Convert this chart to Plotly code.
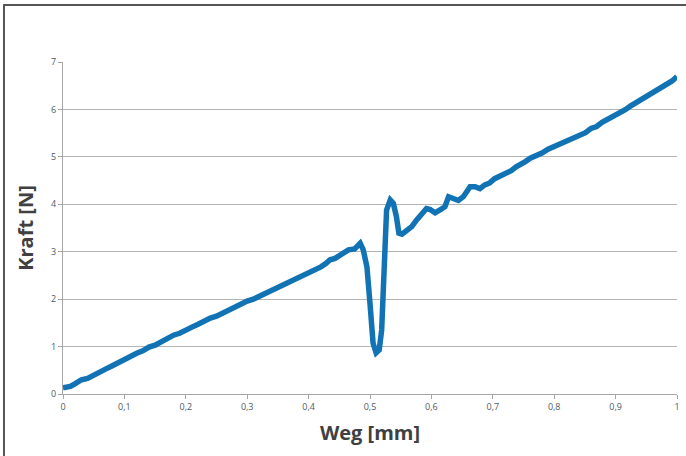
import plotly.graph_objects as go

weg = [0.0, 0.005, 0.012, 0.02, 0.025, 0.03, 0.04, 0.048, 0.055, 0.063, 0.07, 0.078, 0.085, 0.093,
       0.1, 0.11, 0.12, 0.13, 0.14, 0.15, 0.16, 0.17, 0.18, 0.19, 0.2,
       0.21, 0.22, 0.23, 0.24, 0.25, 0.26, 0.27, 0.28, 0.29, 0.3, 0.31, 0.32, 0.33, 0.34, 0.35,
       0.36, 0.37, 0.38, 0.39, 0.4, 0.41, 0.42, 0.428, 0.435, 0.443, 0.45, 0.458, 0.465, 0.475,
       0.484, 0.489, 0.495, 0.5, 0.505, 0.51, 0.515, 0.519, 0.523, 0.527, 0.533, 0.538, 0.543,
       0.547, 0.552, 0.56, 0.568, 0.576, 0.587, 0.592, 0.598, 0.606, 0.614, 0.622, 0.628, 0.636,
       0.644, 0.652, 0.663, 0.671, 0.679, 0.687, 0.695, 0.703, 0.712, 0.721, 0.73, 0.738, 0.745,
       0.753, 0.761, 0.77, 0.78, 0.79, 0.8, 0.81, 0.82, 0.831, 0.842, 0.851, 0.86, 0.869, 0.878,
       0.887, 0.896, 0.905, 0.915, 0.924, 0.933, 0.942, 0.951, 0.959, 0.967, 0.976, 0.984, 0.992, 1.0]
kraft = [0.13, 0.14, 0.16, 0.22, 0.27, 0.3, 0.33, 0.39, 0.44, 0.47, 0.53, 0.58, 0.63, 0.69,
         0.74, 0.79, 0.86, 0.91, 0.99, 1.03, 1.1, 1.18, 1.24, 1.28, 1.36,
         1.41, 1.47, 1.55, 1.6, 1.64, 1.71, 1.78, 1.83, 1.9, 1.96, 2.0, 2.06, 2.14, 2.19, 2.24,
         2.3, 2.37, 2.42, 2.5, 2.56, 2.6, 2.68, 2.75, 2.83, 2.86, 2.92, 2.97, 3.04, 3.06,
         3.18, 3.04, 2.68, 1.91, 1.07, 0.87, 0.93, 1.35, 2.61, 3.88, 4.09, 4.02, 3.74,
         3.39, 3.37, 3.46, 3.53, 3.67, 3.84, 3.91, 3.89, 3.82, 3.88, 3.95, 4.16, 4.12,
         4.08, 4.16, 4.37, 4.37, 4.33, 4.41, 4.45, 4.54, 4.59, 4.65, 4.71, 4.79, 4.83,
         4.9, 4.97, 5.01, 5.08, 5.16, 5.22, 5.25, 5.33, 5.4, 5.46, 5.51, 5.6, 5.64, 5.73,
         5.79, 5.88, 5.92, 5.99, 6.07, 6.14, 6.19, 6.27, 6.33, 6.4, 6.47, 6.54, 6.6, 6.69]

x_ticks = [0, 0.1, 0.2, 0.3, 0.4, 0.5, 0.6, 0.7, 0.8, 0.9, 1.0]
x_ticklabels = ["0", "0,1", "0,2", "0,3", "0,4", "0,5", "0,6", "0,7", "0,8", "0,9", "1"]
y_ticks = [0, 1, 2, 3, 4, 5, 6, 7]

fig = go.Figure()
fig.add_trace(go.Scatter(x=weg, y=kraft, mode="lines",
                         line=dict(color="#1173b3", width=5.5, shape="linear"),
                         showlegend=False))

axis_font = dict(family="Open Sans, Liberation Sans, sans-serif", size=9, color="#4f5a66")
title_font = dict(family="Open Sans, Liberation Sans, sans-serif", size=20, color="#404040")

fig.update_layout(
    width=686, height=456,
    margin=dict(l=63, r=9, t=62, b=62, autoexpand=False),
    paper_bgcolor="white", plot_bgcolor="white",
    xaxis=dict(range=[0, 1], tickvals=x_ticks, ticktext=x_ticklabels,
               showgrid=False, zeroline=False, showline=True, linecolor="#a6a6a6", linewidth=1,
               ticks="outside", ticklen=4, tickcolor="#a6a6a6", tickfont=axis_font,
               title=dict(text="<b>Weg [mm]</b>", font=title_font, standoff=14)),
    yaxis=dict(range=[0, 7], tickvals=y_ticks,
               showgrid=True, gridcolor="#b4b4b4", gridwidth=1, zeroline=False,
               showline=True, linecolor="#a6a6a6", linewidth=1,
               ticks="outside", ticklen=4, tickcolor="#a6a6a6", tickfont=axis_font,
               title=dict(text="<b>Kraft [N]</b>", font=title_font, standoff=12)),
    shapes=[
        dict(type="line", xref="paper", yref="paper", x0=-0.0961, x1=-0.0961, y0=-0.2, y1=1.172,
             line=dict(color="#555555", width=2)),
        dict(type="line", xref="paper", yref="paper", x0=-0.0975, x1=1.02, y0=1.172, y1=1.172,
             line=dict(color="#555555", width=2)),
    ],
)

fig.write_html("out.html", config={"displayModeBar": False},
               post_script="document.body.style.margin='0';")
